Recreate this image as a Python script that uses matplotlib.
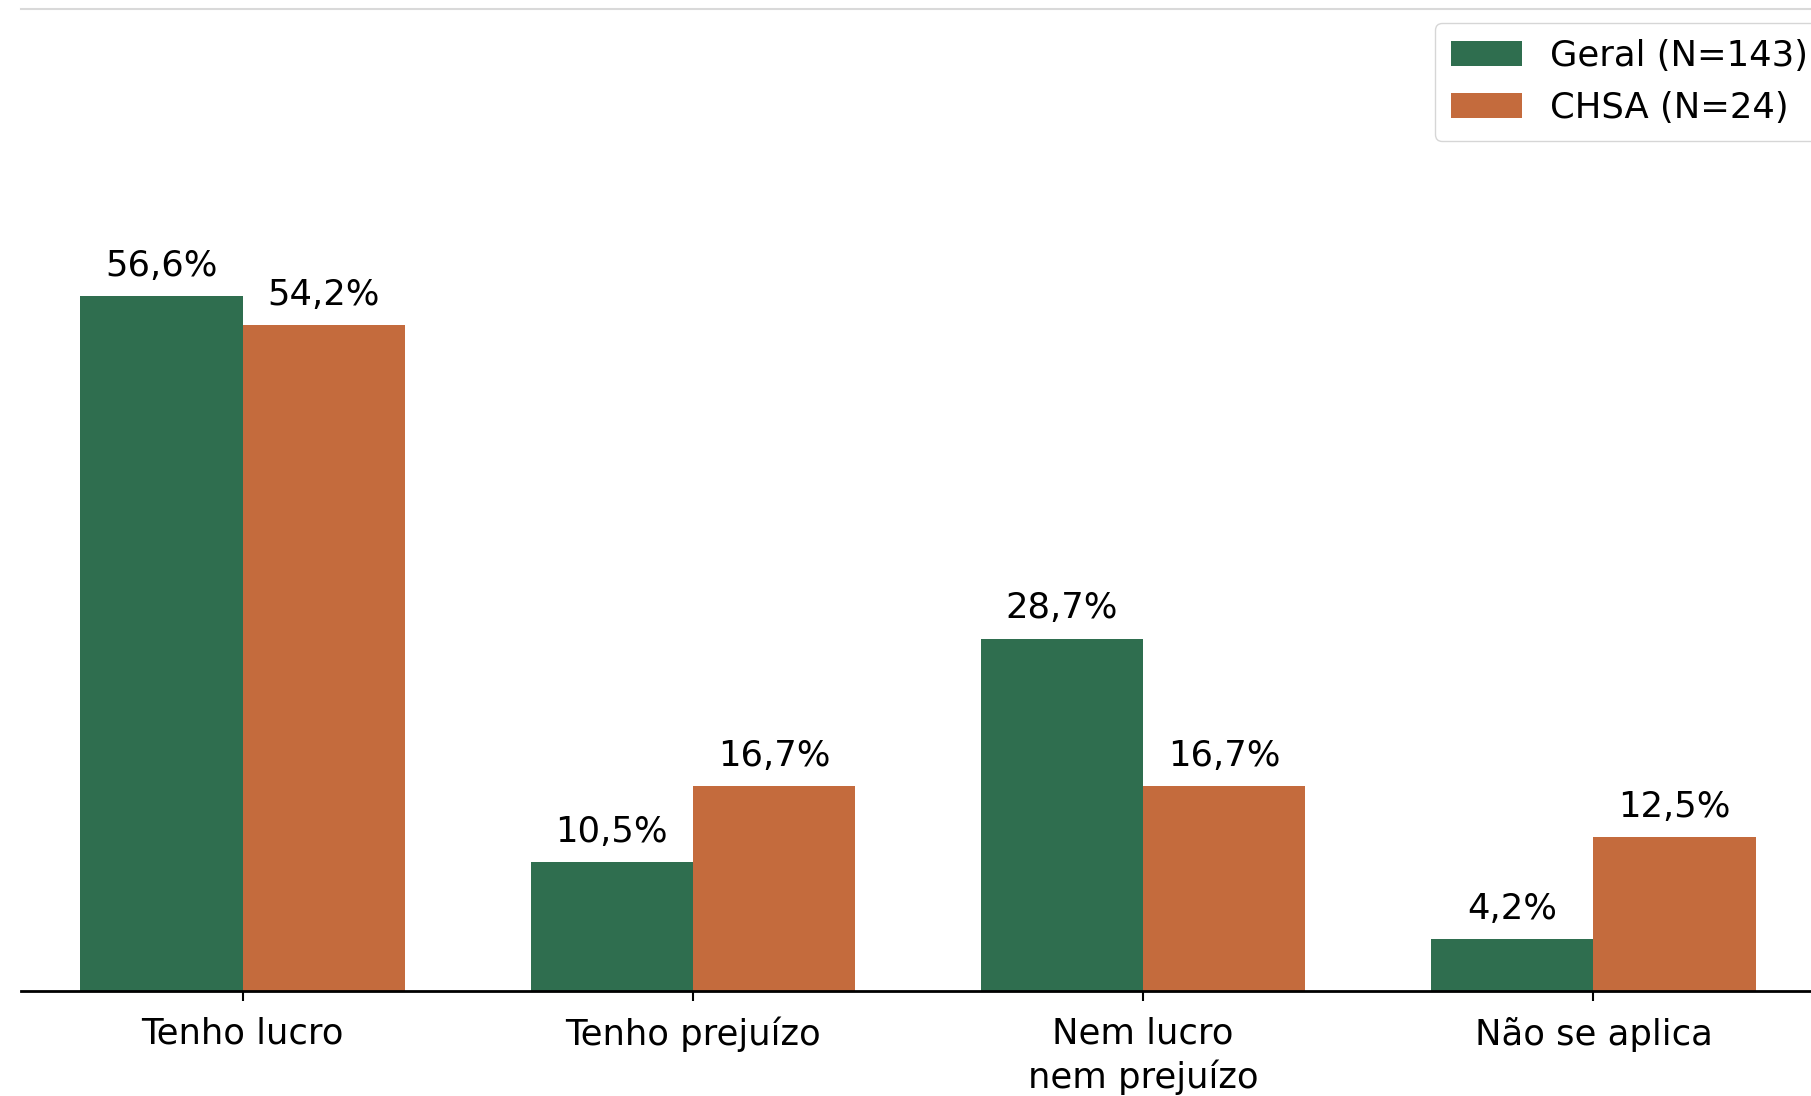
import matplotlib
matplotlib.use("Agg")
import matplotlib.pyplot as plt
import numpy as np

categories = ["Tenho lucro", "Tenho prejuízo", "Nem lucro\nnem prejuízo", "Não se aplica"]
geral = [56.6, 10.5, 28.7, 4.2]
chsa = [54.2, 16.7, 16.7, 12.5]
series_labels = ["Geral (N=143)", "CHSA (N=24)"]
colors = ["#2f6e4f", "#c46b3d"]

plt.rcParams['font.family'] = ['DejaVu Sans']
fig = plt.figure(figsize=(18.11, 10.96), dpi=100)
ax = fig.add_axes([21/1811, 1-991/1096, 1794/1811, (991-8.5)/1096])

x = np.arange(len(categories))
w = 0.36
b1 = ax.bar(x - w/2, geral, w, color=colors[0], label=series_labels[0])
b2 = ax.bar(x + w/2, chsa, w, color=colors[1], label=series_labels[1])

fs = 25.5
for bars, vals in ((b1, geral), (b2, chsa)):
    for r, v in zip(bars, vals):
        ax.annotate(f"{v:.1f}%".replace(".", ","),
                    (r.get_x() + r.get_width()/2, r.get_height()),
                    xytext=(0, 9.5), textcoords="offset points",
                    ha="center", va="bottom", fontsize=fs)

ax.set_xlim(-0.492, 3.492)
ax.set_ylim(0, 80)
ax.set_xticks(x)
ax.set_xticklabels(categories, fontsize=fs, linespacing=1.3)
ax.set_yticks([])
ax.tick_params(axis="x", length=7, width=1.5, pad=11.5)
ax.spines["left"].set_visible(False)
ax.spines["right"].set_visible(False)
ax.spines["top"].set_color("#d9d9d9")
ax.spines["top"].set_linewidth(1.5)
ax.spines["bottom"].set_linewidth(2)

fig.legend(handles=[b1, b2], labels=series_labels, loc="upper left",
           bbox_to_anchor=(1435/1811, 1-23/1096), fontsize=fs,
           borderaxespad=0, frameon=True, labelspacing=0.5, borderpad=0.45)

fig.savefig("out.png", dpi=100)
